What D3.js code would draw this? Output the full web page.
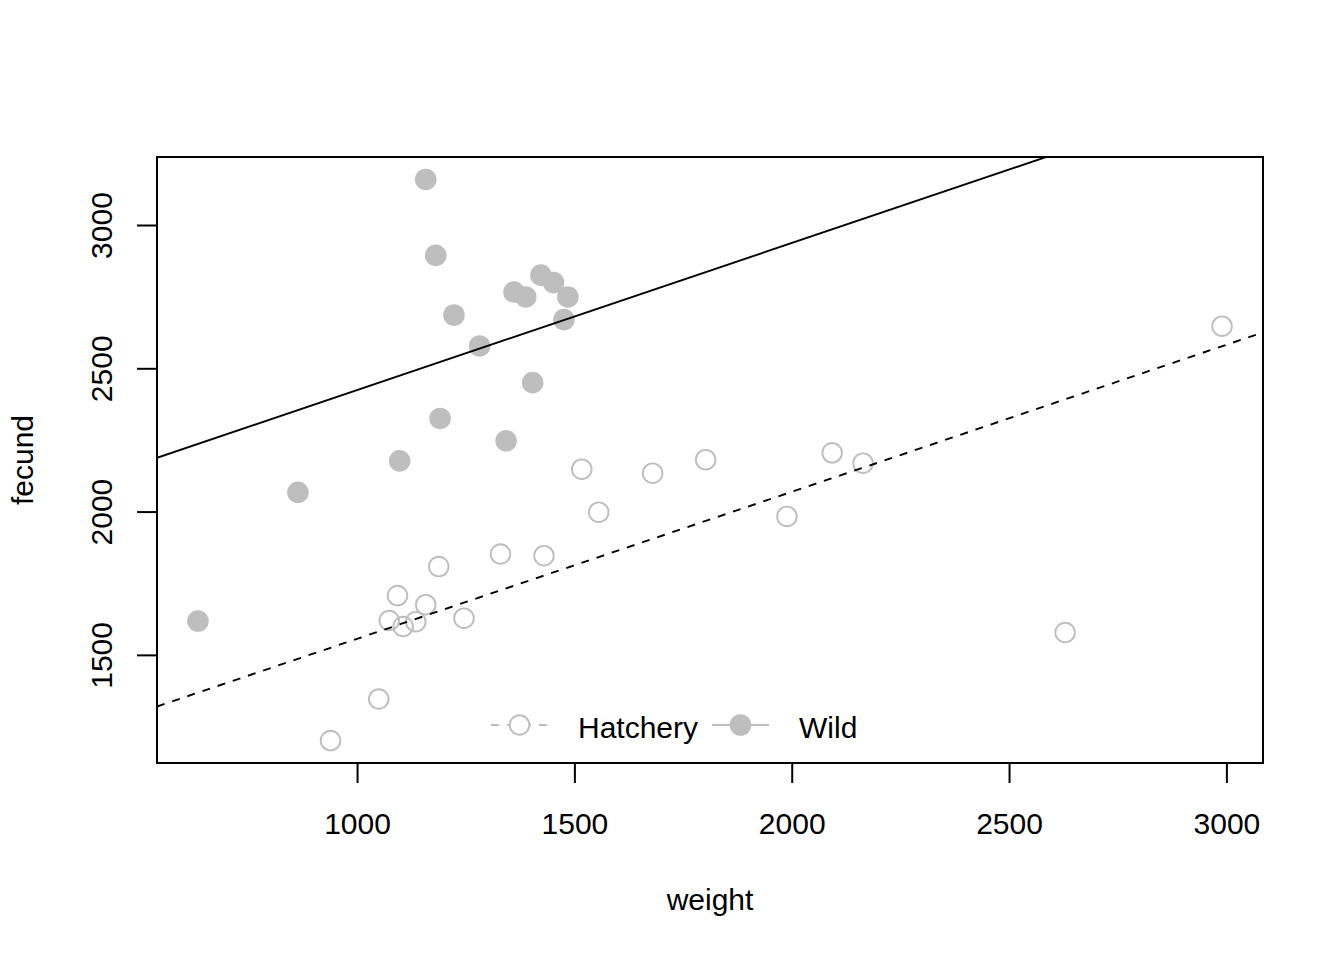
<!DOCTYPE html>
<html>
<head>
<meta charset="utf-8">
<script src="https://cdn.jsdelivr.net/npm/d3@7"></script>
<style>
  body { margin: 0; background: #fff; }
  text { font-family: "Liberation Sans", Arial, sans-serif; fill: #000; }
</style>
</head>
<body>
<svg id="chart" width="1344" height="960"></svg>
<script>
// hatchery fish (open circles)
const hatcheryWeight = [1517, 1680, 1802, 1556, 1989, 2093, 2164, 2629, 2990, 1330,
  1430, 1188, 1093, 1158, 1074, 1135, 1106, 1246, 1050, 939];
const hatcheryFecund = [2148, 2134, 2181, 1998, 1983, 2205, 2169, 1578, 2647, 1852,
  1846, 1808, 1707, 1675, 1620, 1616, 1599, 1628, 1346, 1201];

// wild fish (filled circles)
const wildWeight = [1158, 1181, 1423, 1452, 1361, 1388, 1485, 1223, 1476, 1282,
  1404, 1191, 1343, 1098, 864, 634];
const wildFecund = [3159, 2894, 2825, 2799, 2766, 2749, 2749, 2686, 2670, 2578,
  2450, 2325, 2247, 2177, 2067, 1618];

// fitted lines: common slope, one intercept per group
const groups = ["Hatchery", "Wild"];
const intercepts = [1043, 1911];
const slope = 0.513;

const xTicks = [1000, 1500, 2000, 2500, 3000];
const yTicks = [1500, 2000, 2500, 3000];

const svg = d3.select("#chart");
const plotL = 157, plotR = 1263, plotT = 157, plotB = 763;
const grey = "#bebebe";

function padded(vals) {
  let [lo, hi] = d3.extent(vals);
  let p = (hi - lo) * 0.04;
  return [lo - p, hi + p];
}

const x = d3.scaleLinear()
  .domain(padded(hatcheryWeight.concat(wildWeight)))
  .range([plotL, plotR]);
const y = d3.scaleLinear()
  .domain(padded(hatcheryFecund.concat(wildFecund)))
  .range([plotB, plotT]);

svg.append("clipPath").attr("id", "plotclip")
  .append("rect")
  .attr("x", plotL).attr("y", plotT)
  .attr("width", plotR - plotL).attr("height", plotB - plotT);

// points
const hatch = hatcheryWeight.map((w, i) => ({w: w, f: hatcheryFecund[i]}));
const wild = wildWeight.map((w, i) => ({w: w, f: wildFecund[i]}));

svg.append("g")
  .selectAll("circle")
  .data(wild)
  .join("circle")
  .attr("cx", d => x(d.w))
  .attr("cy", d => y(d.f))
  .attr("r", 10.8)
  .style("fill", grey);

svg.append("g")
  .selectAll("circle")
  .data(hatch)
  .join("circle")
  .attr("cx", d => x(d.w))
  .attr("cy", d => y(d.f))
  .attr("r", 9.8)
  .style("fill", "none")
  .style("stroke", grey)
  .style("stroke-width", 1.9);

// regression lines
const xd = x.domain();
svg.append("g")
  .attr("clip-path", "url(#plotclip)")
  .selectAll("line")
  .data(groups)
  .join("line")
  .attr("x1", x(xd[0]))
  .attr("x2", x(xd[1]))
  .attr("y1", (g, i) => y(intercepts[i] + slope * xd[0]))
  .attr("y2", (g, i) => y(intercepts[i] + slope * xd[1]))
  .style("stroke", "#000")
  .style("stroke-width", 1.9)
  .style("stroke-dasharray", g => g === "Hatchery" ? "8,8" : null);

// axes
const xAxis = svg.append("g")
  .attr("transform", `translate(0,${plotB})`)
  .call(d3.axisBottom(x).tickValues(xTicks).tickSize(20).tickPadding(0).tickFormat(d3.format("d")));
xAxis.select(".domain").remove();
xAxis.selectAll("line").style("stroke", "#000").style("stroke-width", 2);
xAxis.selectAll("text")
  .attr("y", 71).attr("dy", null)
  .style("font-size", "30px")
  .style("font-family", "Liberation Sans, Arial, sans-serif");

const yAxis = svg.append("g")
  .attr("transform", `translate(${plotL},0)`)
  .call(d3.axisLeft(y).tickValues(yTicks).tickSize(20).tickFormat(d3.format("d")));
yAxis.select(".domain").remove();
yAxis.selectAll("line").style("stroke", "#000").style("stroke-width", 2);
yAxis.selectAll("text")
  .attr("x", null).attr("dy", null)
  .attr("text-anchor", "middle")
  .attr("transform", "translate(-45,0) rotate(-90)")
  .style("font-size", "30px")
  .style("font-family", "Liberation Sans, Arial, sans-serif");

// box
svg.append("rect")
  .attr("x", plotL).attr("y", plotT)
  .attr("width", plotR - plotL).attr("height", plotB - plotT)
  .style("fill", "none").style("stroke", "#000").style("stroke-width", 2);

// axis titles
svg.append("text")
  .attr("x", (plotL + plotR) / 2).attr("y", 910)
  .attr("text-anchor", "middle")
  .style("font-size", "30px")
  .text("weight");

svg.append("text")
  .attr("transform", `translate(33,${(plotT + plotB) / 2}) rotate(-90)`)
  .attr("text-anchor", "middle")
  .style("font-size", "30px")
  .text("fecund");

// legend
const legendY = 725;
const legendX = [491, 712];
const leg = svg.append("g")
  .selectAll("g")
  .data(groups)
  .join("g")
  .attr("transform", (g, i) => `translate(${legendX[i]},${legendY})`);

leg.append("line")
  .attr("x1", 0).attr("x2", 57)
  .style("stroke", grey)
  .style("stroke-width", 1.9)
  .style("stroke-dasharray", g => g === "Hatchery" ? "8,8" : null);

leg.append("circle")
  .attr("cx", 28.5)
  .attr("r", g => g === "Hatchery" ? 9.8 : 10.8)
  .style("fill", g => g === "Hatchery" ? "#fff" : grey)
  .style("stroke", g => g === "Hatchery" ? grey : "none")
  .style("stroke-width", 1.9);

leg.append("text")
  .attr("x", 87)
  .attr("y", 12.5)
  .style("font-size", "30px")
  .text(g => g);
</script>
</body>
</html>
